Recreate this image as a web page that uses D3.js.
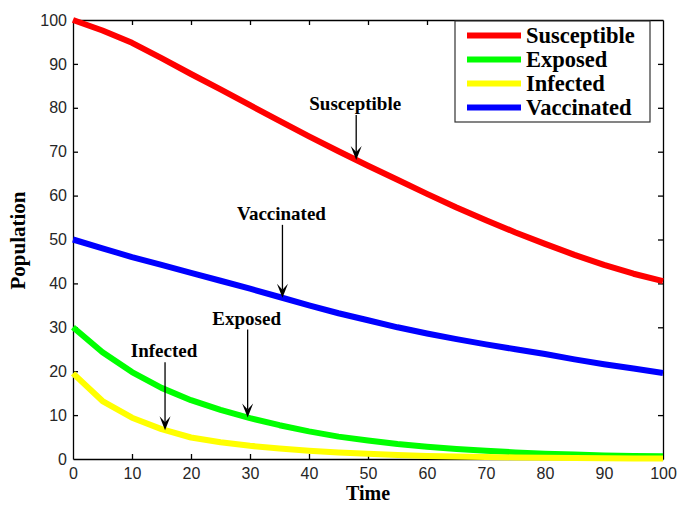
<!DOCTYPE html>
<html>
<head>
<meta charset="utf-8">
<script src="https://cdn.jsdelivr.net/npm/d3@7"></script>
<style>
  html, body { margin: 0; padding: 0; background: #fff; }
  svg { display: block; }
</style>
</head>
<body>
<svg id="chart" width="679" height="506"></svg>
<script>
// Time points shared by every compartment
const times = [0, 5, 10, 15, 20, 25, 30, 35, 40, 45, 50, 55, 60, 65, 70, 75, 80, 85, 90, 95, 100];

// Population in each compartment at those times
const susceptible = [100, 97.6, 94.8, 91.3, 87.7, 84.2, 80.6, 77, 73.5, 70.1, 66.8, 63.6, 60.4, 57.3, 54.4, 51.6, 49, 46.5, 44.2, 42.2, 40.5];
const exposed     = [30, 24.3, 19.8, 16.2, 13.4, 11.2, 9.3, 7.7, 6.3, 5.1, 4.2, 3.4, 2.8, 2.3, 1.9, 1.5, 1.2, 1, 0.8, 0.7, 0.6];
const infected    = [19.5, 13.2, 9.4, 6.8, 4.9, 3.8, 3, 2.4, 1.9, 1.5, 1.2, 0.9, 0.7, 0.55, 0.45, 0.35, 0.28, 0.22, 0.17, 0.13, 0.1];
const vaccinated  = [50, 48, 46, 44.2, 42.4, 40.6, 38.8, 36.9, 35, 33.2, 31.6, 30, 28.6, 27.3, 26.1, 25, 23.9, 22.7, 21.6, 20.6, 19.6];

const seriesNames  = ["Susceptible", "Exposed", "Infected", "Vaccinated"];
const seriesValues = [susceptible, exposed, infected, vaccinated];
const seriesColors = ["#ff0000", "#00ff00", "#ffff00", "#0000ff"];

// Axis tick values
const xTicks = [0, 10, 20, 30, 40, 50, 60, 70, 80, 90, 100];
const yTicks = [0, 10, 20, 30, 40, 50, 60, 70, 80, 90, 100];

// Callouts: which curve, at what time, and how long the arrow is (px)
const calloutNames = ["Susceptible", "Vaccinated", "Exposed", "Infected"];
const calloutTimes = [48, 35.5, 29.6, 15.6];
const calloutArrowLen = [45, 73, 88, 68];

const svg = d3.select("#chart");
const W = 679, H = 506;
const margin = { left: 73, top: 20, right: 16, bottom: 47 };
const iw = W - margin.left - margin.right;
const ih = H - margin.top - margin.bottom;

const x = d3.scaleLinear().domain([0, 100]).range([0, iw]);
const y = d3.scaleLinear().domain([0, 100]).range([ih, 0]);

const g = svg.append("g").attr("transform", `translate(${margin.left},${margin.top})`);

// Frame with inward ticks on all four sides
const tickFont = "16px 'Liberation Sans', Arial, sans-serif";
const axisColor = "#262626";

const xAxisB = d3.axisBottom(x).tickValues(xTicks).tickSizeInner(-5).tickSizeOuter(0).tickPadding(9);
const xAxisT = d3.axisTop(x).tickValues(xTicks).tickSizeInner(-5).tickSizeOuter(0).tickFormat("");
const yAxisL = d3.axisLeft(y).tickValues(yTicks).tickSizeInner(-5).tickSizeOuter(0).tickPadding(6);
const yAxisR = d3.axisRight(y).tickValues(yTicks).tickSizeInner(-5).tickSizeOuter(0).tickFormat("");

function styleAxis(sel) {
  sel.selectAll("path").attr("stroke", "#000").attr("stroke-width", 1.3);
  sel.selectAll("line").attr("stroke", "#000").attr("stroke-width", 1.3);
  sel.selectAll("text").style("font", tickFont).attr("fill", axisColor);
}

g.append("g").attr("transform", `translate(0,${ih})`).call(xAxisB).call(styleAxis);
g.append("g").call(xAxisT).call(styleAxis);
g.append("g").call(yAxisL).call(styleAxis);
g.append("g").attr("transform", `translate(${iw},0)`).call(yAxisR).call(styleAxis);

// Hide the end ticks that would sit on the frame corners
g.selectAll(".tick").filter(d => d === 0 || d === 100).select("line").remove();

// Curves
const line = d3.line()
  .x((d, i) => x(times[i]))
  .y(d => y(d));

seriesValues.forEach((vals, k) => {
  g.append("path")
    .datum(vals)
    .attr("fill", "none")
    .attr("stroke", seriesColors[k])
    .attr("stroke-width", 6)
    .attr("stroke-linejoin", "round")
    .attr("d", line);
});

// Value of a curve at an arbitrary time (linear between samples)
function valueAt(vals, t) {
  const i = Math.min(d3.bisectRight(times, t) - 1, times.length - 2);
  const f = (t - times[i]) / (times[i + 1] - times[i]);
  return vals[i] + f * (vals[i + 1] - vals[i]);
}

// Callouts with arrows pointing at each curve
const labelFont = "bold 19px 'Liberation Serif', 'Times New Roman', serif";
calloutNames.forEach((name, k) => {
  const vals = seriesValues[seriesNames.indexOf(name)];
  const tx = x(calloutTimes[k]);
  const ty = y(valueAt(vals, calloutTimes[k]));
  const y0 = ty - calloutArrowLen[k];
  const c = g.append("g");
  c.append("line")
    .attr("x1", tx).attr("x2", tx)
    .attr("y1", y0).attr("y2", ty - 8)
    .attr("stroke", "#000").attr("stroke-width", 1.3);
  c.append("path")
    .attr("d", `M${tx},${ty} L${tx - 5.5},${ty - 14} L${tx},${ty - 8} L${tx + 5.5},${ty - 14} Z`)
    .attr("fill", "#000");
  c.append("text")
    .attr("x", tx - 1)
    .attr("y", y0 - 5)
    .attr("text-anchor", "middle")
    .style("font", labelFont)
    .attr("fill", "#000")
    .text(name);
});

// Axis titles
const titleFont = "bold 21px 'Liberation Serif', 'Times New Roman', serif";
svg.append("text")
  .attr("transform", `translate(25,${margin.top + ih / 2 + 1}) rotate(-90)`)
  .attr("text-anchor", "middle")
  .style("font", titleFont)
  .text("Population");

svg.append("text")
  .attr("x", margin.left + iw / 2)
  .attr("y", 500)
  .attr("text-anchor", "middle")
  .style("font", "bold 20px 'Liberation Serif', 'Times New Roman', serif")
  .text("Time");

// Legend
const legend = svg.append("g").attr("transform", "translate(455,21)");
legend.append("rect")
  .attr("width", 195).attr("height", 101)
  .attr("fill", "#fff")
  .attr("stroke", "#333").attr("stroke-width", 1.2);

seriesNames.forEach((name, k) => {
  const ry = 14.5 + k * 24;
  legend.append("line")
    .attr("x1", 12).attr("x2", 66)
    .attr("y1", ry).attr("y2", ry)
    .attr("stroke", seriesColors[k]).attr("stroke-width", 6);
  legend.append("text")
    .attr("x", 71).attr("y", ry + 7.5)
    .style("font", "bold 22.5px 'Liberation Serif', 'Times New Roman', serif")
    .attr("fill", "#000")
    .text(name);
});
</script>
</body>
</html>
